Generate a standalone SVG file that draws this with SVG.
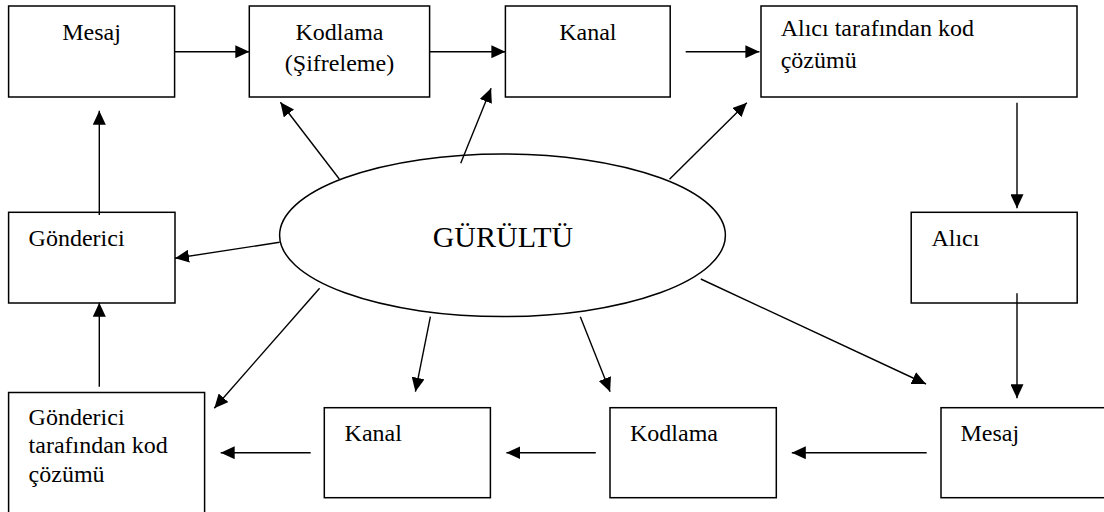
<svg xmlns="http://www.w3.org/2000/svg" width="1104" height="512" viewBox="0 0 1104 512">
<style>
.box{fill:#fff;stroke:#000;stroke-width:1.5}
.t{font-family:'Liberation Serif','Times New Roman','DejaVu Serif',serif;font-size:24px;fill:#000}
.c{text-anchor:middle}
.big{font-family:'Liberation Serif','Times New Roman','DejaVu Serif',serif;font-size:30px;fill:#000;text-anchor:middle}
.ar{stroke:#000;stroke-width:1.4;fill:none;marker-end:url(#ah)}
</style>
<defs>
<marker id="ah" markerUnits="userSpaceOnUse" markerWidth="15" markerHeight="13" refX="14" refY="6.5" orient="auto">
<path d="M0,0 L14,6.5 L0,13 z" fill="#000"/>
</marker>
</defs>
<rect width="1104" height="512" fill="#fff"/>
<g id="n-mesaj-top"><rect class="box" x="8.6" y="6" width="166" height="91"/><text class="t c" x="91.6" y="40">Mesaj</text></g>
<g id="n-kodlama-top"><rect class="box" x="249.3" y="6" width="180.3" height="91"/><text class="t c" x="339.5" y="40">Kodlama</text><text class="t c" x="339.5" y="71">(Şifreleme)</text></g>
<g id="n-kanal-top"><rect class="box" x="505.4" y="6" width="164.8" height="91"/><text class="t c" x="587.8" y="40">Kanal</text></g>
<g id="n-alici-kod"><rect class="box" x="761" y="6" width="316" height="91"/><text class="t" x="780.7" y="36">Alıcı tarafından kod</text><text class="t" x="780.7" y="68">çözümü</text></g>
<g id="n-gonderici"><rect class="box" x="8.6" y="212.3" width="166.4" height="90.7"/><text class="t" x="28.6" y="245.7">Gönderici</text></g>
<g id="n-alici"><rect class="box" x="911.2" y="212.3" width="166" height="90.7"/><text class="t" x="931.4" y="245.7">Alıcı</text></g>
<g id="n-gonderici-kod"><rect class="box" x="8.6" y="392.5" width="196" height="130"/><text class="t" x="28.6" y="425">Gönderici</text><text class="t" x="28.6" y="453">tarafından kod</text><text class="t" x="28.6" y="482">çözümü</text></g>
<g id="n-kanal-bot"><rect class="box" x="324.3" y="407.7" width="166.1" height="90"/><text class="t" x="344.6" y="441">Kanal</text></g>
<g id="n-kodlama-bot"><rect class="box" x="610" y="407.7" width="166.3" height="90"/><text class="t" x="630" y="441">Kodlama</text></g>
<g id="n-mesaj-bot"><rect class="box" x="941" y="407.7" width="170" height="90"/><text class="t" x="960.5" y="441">Mesaj</text></g>
<g id="n-gurultu"><ellipse cx="502.5" cy="235.3" rx="222.9" ry="81.3" fill="#fff" stroke="#000" stroke-width="1.5"/><text class="big" x="503" y="246.7">GÜRÜLTÜ</text></g>
<g id="connectors">
<line class="ar" x1="174.6" y1="51.7" x2="249.3" y2="51.7"/>
<line class="ar" x1="429.6" y1="51.7" x2="505.4" y2="51.7"/>
<line class="ar" x1="685.7" y1="51.7" x2="759.4" y2="51.7"/>
<line class="ar" x1="1017" y1="102.7" x2="1017" y2="208.3"/>
<line class="ar" x1="1017" y1="293.3" x2="1017" y2="398.3"/>
<line class="ar" x1="926.7" y1="452.7" x2="791.8" y2="452.7"/>
<line class="ar" x1="595.8" y1="452.7" x2="506.4" y2="452.7"/>
<line class="ar" x1="310.7" y1="452.7" x2="220.7" y2="452.7"/>
<line class="ar" x1="99.3" y1="386.7" x2="99.3" y2="302.7"/>
<line class="ar" x1="99.3" y1="215" x2="99.3" y2="110.7"/>
<line class="ar" x1="339.3" y1="179" x2="280.4" y2="102.3"/>
<line class="ar" x1="460.7" y1="163.3" x2="491.1" y2="88.3"/>
<line class="ar" x1="669.5" y1="179.3" x2="746.8" y2="102.7"/>
<line class="ar" x1="279.6" y1="242.3" x2="175" y2="258.3"/>
<line class="ar" x1="319.6" y1="288.3" x2="214.3" y2="408.3"/>
<line class="ar" x1="430.4" y1="316.7" x2="415.4" y2="391.7"/>
<line class="ar" x1="580.3" y1="316.7" x2="610.1" y2="391.7"/>
<line class="ar" x1="700.8" y1="279" x2="926" y2="384"/>
</g>
</svg>
